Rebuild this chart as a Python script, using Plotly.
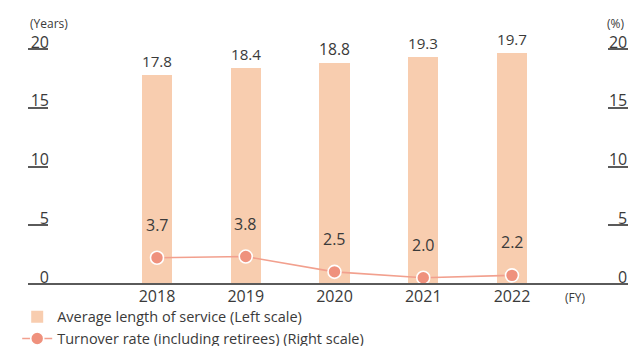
import plotly.graph_objects as go

# Fiscal years and the two series
years = ["2018", "2019", "2020", "2021", "2022"]
avg_service_years = [17.8, 18.4, 18.8, 19.3, 19.7]
turnover_rate_pct = [3.7, 3.8, 2.5, 2.0, 2.2]

left_ticks = [0, 5, 10, 15, 20]
right_ticks = [0, 5, 10, 15, 20]

FONT = "Open Sans"
TEXT = "#3a3a3a"
AXIS = "#5a5a5a"
BAR = "#F8CDAF"
LINE = "#F2A08E"
MARK = "#EF917D"

# Geometry of the plotting area (pixels)
W, H = 631, 346
PLOT_TOP, PLOT_BOTTOM = 30, 296
Y0_PX, Y20_PX = 284, 49             # where 0 and 20 sit on both scales
PX_PER_UNIT = (Y0_PX - Y20_PX) / 20.0
LINE_BASE = 1.464                   # turnover value at the baseline

y_lo = -(PLOT_BOTTOM - Y0_PX) / PX_PER_UNIT
y_hi = 20 + (Y20_PX - PLOT_TOP) / PX_PER_UNIT
y2_lo = LINE_BASE + y_lo
y2_hi = LINE_BASE + y_hi
baseline_pos = (PLOT_BOTTOM - Y0_PX) / (PLOT_BOTTOM - PLOT_TOP)

fig = go.Figure()

fig.add_trace(go.Bar(
    x=years, y=avg_service_years,
    name="Average length of service (Left scale)",
    marker=dict(color=BAR, line=dict(width=0)),
    width=0.34,
    text=[f"{v:.1f}" for v in avg_service_years],
    textposition="outside",
    textfont=dict(family=FONT, size=16, color=TEXT),
    cliponaxis=False,
    yaxis="y",
))

fig.add_trace(go.Scatter(
    x=years, y=turnover_rate_pct,
    name="Turnover rate (including retirees) (Right scale)",
    mode="lines+markers",
    line=dict(color=LINE, width=1.6),
    marker=dict(color=MARK, size=13, line=dict(color="white", width=1.6)),
    cliponaxis=False,
    yaxis="y2",
))

# Invisible helper trace so the right-hand scale is drawn
fig.add_trace(go.Scatter(x=[years[0]], y=[0], yaxis="y3", mode="markers",
                         marker=dict(opacity=0), showlegend=False,
                         hoverinfo="skip"))

# Value labels for the turnover line, lifted above each point
# (category axis: annotations are placed by category index)
for i, v in enumerate(turnover_rate_pct):
    fig.add_annotation(
        x=i, y=v, xref="x", yref="y2", yshift=33,
        text=f"{v:.1f}", showarrow=False,
        font=dict(family=FONT, size=16, color=TEXT),
    )

# Unit captions
fig.add_annotation(text="(Years)", x=0.0, y=1.0, xref="paper", yref="paper",
                   xanchor="left", yanchor="bottom", yshift=-4, showarrow=False,
                   font=dict(family=FONT, size=12, color=TEXT))
fig.add_annotation(text="(%)", x=1.0, y=1.0, xref="paper", yref="paper",
                   xanchor="right", yanchor="bottom", yshift=-4, xshift=-2,
                   showarrow=False, font=dict(family=FONT, size=12, color=TEXT))
fig.add_annotation(text="(FY)", x=0.912, y=0, xref="paper", yref="paper",
                   xanchor="center", yanchor="middle", yshift=-1, showarrow=False,
                   font=dict(family=FONT, size=12, color=TEXT))

fig.update_layout(
    width=W, height=H,
    margin=dict(l=28, r=3, t=PLOT_TOP, b=H - PLOT_BOTTOM, autoexpand=False),
    paper_bgcolor="white", plot_bgcolor="white",
    font=dict(family=FONT, size=16, color=TEXT),
    showlegend=True,
    bargap=0,
    hovermode=False,
    xaxis=dict(
        type="category",
        range=[-1.4535, 5.307],
        anchor="free", position=baseline_pos,
        showline=True, linecolor=AXIS, linewidth=1.6,
        showgrid=False, zeroline=False, ticks="",
        ticklabelstandoff=-2,
        tickfont=dict(family=FONT, size=16, color=TEXT),
    ),
    yaxis=dict(
        range=[y_lo, y_hi], tickvals=left_ticks,
        showgrid=False, zeroline=False, showline=False,
        ticks="inside", ticklen=20, tickwidth=1.6, tickcolor=AXIS,
        ticklabelposition="outside", ticklabelstandoff=-22, ticklabelshift=-7,
        tickfont=dict(family=FONT, size=16, color=TEXT),
    ),
    yaxis2=dict(
        range=[y2_lo, y2_hi], overlaying="y", side="right",
        showgrid=False, zeroline=False, showline=False,
        showticklabels=False, ticks="",
    ),
    yaxis3=dict(
        range=[y_lo, y_hi], tickvals=right_ticks, overlaying="y", side="right",
        anchor="x",
        showgrid=False, zeroline=False, showline=False,
        ticks="inside", ticklen=20, tickwidth=1.6, tickcolor=AXIS,
        ticklabelposition="inside", ticklabelstandoff=-19, ticklabelshift=-7,
        tickfont=dict(family=FONT, size=16, color=TEXT),
    ),
    legend=dict(
        orientation="v", x=-0.018, xanchor="left", y=-0.018, yanchor="top",
        yref="paper", font=dict(family=FONT, size=14.5, color=TEXT),
        tracegroupgap=0, itemwidth=30, bgcolor="rgba(0,0,0,0)",
    ),
)

fig.write_html("out.html")
